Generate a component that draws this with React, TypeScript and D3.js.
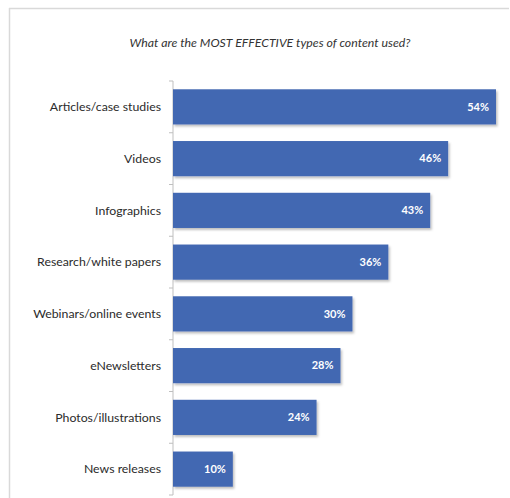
import React from "react";
import * as d3 from "d3";

const categories = [
  "Articles/case studies",
  "Videos",
  "Infographics",
  "Research/white papers",
  "Webinars/online events",
  "eNewsletters",
  "Photos/illustrations",
  "News releases",
];
const values = [54, 46, 43, 36, 30, 28, 24, 10];
const title = "What are the MOST EFFECTIVE types of content used?";

const W = 510;
const H = 498;
const axisX = 173;
const top = 81;
const bottom = 495;

export default function App() {
  const x = d3.scaleLinear().domain([0, 54]).range([axisX, 496]);
  const y = d3.scaleBand<string>().domain(categories).range([top, bottom]).paddingInner(0.32).paddingOuter(0.16);
  const yOuter = d3.scaleBand<string>().domain(categories).range([top, bottom]);
  const font = "Lato, 'Open Sans', sans-serif";
  return (
    <svg width={W} height={H} style={{ position: "absolute", left: 0, top: 0 }}>
      <defs>
        <filter id="sh" x="-5%" y="-20%" width="115%" height="160%">
          <feDropShadow dx="1.5" dy="2" stdDeviation="1" floodColor="#000" floodOpacity="0.25" />
        </filter>
      </defs>
      <rect x={0} y={0} width={W} height={H} fill="#fff" />
      <line x1={9.5} x2={9.5} y1={8} y2={H} stroke="#d9d9d9" strokeWidth={1.5} />
      <line x1={9} x2={509} y1={8.5} y2={8.5} stroke="#d9d9d9" strokeWidth={1.5} />
      <text x={270} y={47} textAnchor="middle" fontFamily={font} fontStyle="italic" fontSize={12.3} fill="#333">
        {title}
      </text>
      <line x1={axisX} x2={axisX} y1={top} y2={bottom} stroke="#bfbfbf" strokeWidth={1} />
      {categories.map((c) => (
        <line key={"t" + c} x1={axisX - 4} x2={axisX} y1={yOuter(c)!} y2={yOuter(c)!} stroke="#bfbfbf" />
      ))}
      <line x1={axisX - 4} x2={axisX} y1={bottom} y2={bottom} stroke="#bfbfbf" />
      {categories.map((c, i) => {
        const by = y(c)!;
        const bh = y.bandwidth();
        return (
          <g key={c}>
            <rect x={axisX} y={by} width={x(values[i]) - axisX} height={bh} fill="#4267B2" filter="url(#sh)" />
            <text
              x={x(values[i]) - 7}
              y={by + bh / 2}
              dy="0.35em"
              textAnchor="end"
              fontFamily={font}
              fontWeight="bold"
              fontSize={11}
              fill="#fff"
            >
              {values[i]}%
            </text>
            <text
              x={161}
              y={by + bh / 2}
              dy="0.35em"
              textAnchor="end"
              fontFamily={font}
              fontSize={12.3}
              fill="#2b2b2b"
            >
              {c}
            </text>
          </g>
        );
      })}
    </svg>
  );
}
